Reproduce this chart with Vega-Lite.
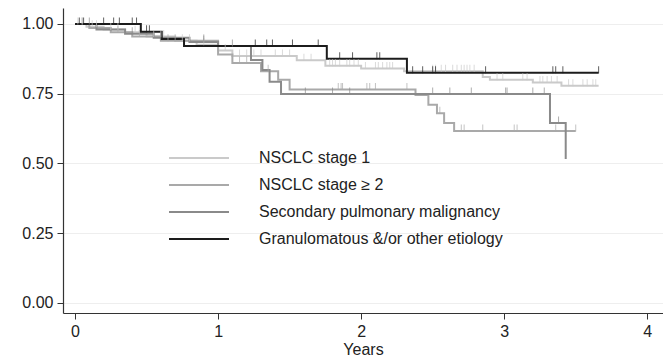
{
  "$schema": "https://vega.github.io/schema/vega-lite/v6.json",
  "width": 600,
  "height": 305,
  "autosize": {"type": "none"},
  "padding": {"left": 63, "top": 8, "right": 0, "bottom": 49},
  "background": "white",
  "config": {
    "view": {"stroke": null},
    "font": "Liberation Sans",
    "axis": {"labelFont": "Liberation Sans", "titleFont": "Liberation Sans", "labelFontSize": 16, "titleFontSize": 16, "titleFontWeight": "normal", "labelColor": "#222", "titleColor": "#222", "domainColor": "#333", "tickColor": "#333", "tickSize": 6, "domainWidth": 1.2}
  },
  "datasets": {
    "curves": [
      {"g": "NSCLC stage 1", "t": 0, "s": 1.0},
      {"g": "NSCLC stage 1", "t": 0.08, "s": 0.99},
      {"g": "NSCLC stage 1", "t": 0.2, "s": 0.98},
      {"g": "NSCLC stage 1", "t": 0.35, "s": 0.97},
      {"g": "NSCLC stage 1", "t": 0.5, "s": 0.955},
      {"g": "NSCLC stage 1", "t": 0.7, "s": 0.94},
      {"g": "NSCLC stage 1", "t": 0.85, "s": 0.925},
      {"g": "NSCLC stage 1", "t": 1.0, "s": 0.905},
      {"g": "NSCLC stage 1", "t": 1.1, "s": 0.885},
      {"g": "NSCLC stage 1", "t": 1.55, "s": 0.87},
      {"g": "NSCLC stage 1", "t": 1.75, "s": 0.85},
      {"g": "NSCLC stage 1", "t": 2.0, "s": 0.84},
      {"g": "NSCLC stage 1", "t": 2.3, "s": 0.83},
      {"g": "NSCLC stage 1", "t": 2.85, "s": 0.81},
      {"g": "NSCLC stage 1", "t": 2.9, "s": 0.8},
      {"g": "NSCLC stage 1", "t": 3.2, "s": 0.79},
      {"g": "NSCLC stage 1", "t": 3.4, "s": 0.778},
      {"g": "NSCLC stage 1", "t": 3.66, "s": 0.778},
      {"g": "NSCLC stage ≥ 2", "t": 0, "s": 1.0},
      {"g": "NSCLC stage ≥ 2", "t": 0.1, "s": 0.985},
      {"g": "NSCLC stage ≥ 2", "t": 0.25, "s": 0.97},
      {"g": "NSCLC stage ≥ 2", "t": 0.4, "s": 0.955},
      {"g": "NSCLC stage ≥ 2", "t": 0.6, "s": 0.94},
      {"g": "NSCLC stage ≥ 2", "t": 1.0, "s": 0.89},
      {"g": "NSCLC stage ≥ 2", "t": 1.1, "s": 0.86},
      {"g": "NSCLC stage ≥ 2", "t": 1.3, "s": 0.83},
      {"g": "NSCLC stage ≥ 2", "t": 1.42, "s": 0.8},
      {"g": "NSCLC stage ≥ 2", "t": 1.5, "s": 0.765},
      {"g": "NSCLC stage ≥ 2", "t": 2.38, "s": 0.745},
      {"g": "NSCLC stage ≥ 2", "t": 2.47, "s": 0.71},
      {"g": "NSCLC stage ≥ 2", "t": 2.53, "s": 0.68},
      {"g": "NSCLC stage ≥ 2", "t": 2.58, "s": 0.645},
      {"g": "NSCLC stage ≥ 2", "t": 2.65, "s": 0.616},
      {"g": "NSCLC stage ≥ 2", "t": 3.5, "s": 0.616},
      {"g": "Secondary pulmonary malignancy", "t": 0, "s": 1.0},
      {"g": "Secondary pulmonary malignancy", "t": 0.15, "s": 0.98},
      {"g": "Secondary pulmonary malignancy", "t": 0.35, "s": 0.965},
      {"g": "Secondary pulmonary malignancy", "t": 0.55, "s": 0.95},
      {"g": "Secondary pulmonary malignancy", "t": 0.8, "s": 0.935},
      {"g": "Secondary pulmonary malignancy", "t": 1.0, "s": 0.921},
      {"g": "Secondary pulmonary malignancy", "t": 1.23, "s": 0.871},
      {"g": "Secondary pulmonary malignancy", "t": 1.31, "s": 0.835},
      {"g": "Secondary pulmonary malignancy", "t": 1.36, "s": 0.793},
      {"g": "Secondary pulmonary malignancy", "t": 1.44, "s": 0.749},
      {"g": "Secondary pulmonary malignancy", "t": 3.32, "s": 0.645},
      {"g": "Secondary pulmonary malignancy", "t": 3.43, "s": 0.516},
      {"g": "Granulomatous &/or other etiology", "t": 0, "s": 1.0},
      {"g": "Granulomatous &/or other etiology", "t": 0.46, "s": 0.972},
      {"g": "Granulomatous &/or other etiology", "t": 0.606, "s": 0.946},
      {"g": "Granulomatous &/or other etiology", "t": 0.762, "s": 0.921},
      {"g": "Granulomatous &/or other etiology", "t": 1.76, "s": 0.875},
      {"g": "Granulomatous &/or other etiology", "t": 2.32, "s": 0.825},
      {"g": "Granulomatous &/or other etiology", "t": 3.66, "s": 0.825}
    ],
    "censor": [
      {"g": "NSCLC stage 1", "t": 0.02, "s": 1.0},
      {"g": "NSCLC stage 1", "t": 0.05, "s": 1.0},
      {"g": "NSCLC stage 1", "t": 0.12, "s": 0.99},
      {"g": "NSCLC stage 1", "t": 0.15, "s": 0.99},
      {"g": "NSCLC stage 1", "t": 0.25, "s": 0.98},
      {"g": "NSCLC stage 1", "t": 0.3, "s": 0.98},
      {"g": "NSCLC stage 1", "t": 0.42, "s": 0.97},
      {"g": "NSCLC stage 1", "t": 0.45, "s": 0.97},
      {"g": "NSCLC stage 1", "t": 0.55, "s": 0.955},
      {"g": "NSCLC stage 1", "t": 0.6, "s": 0.955},
      {"g": "NSCLC stage 1", "t": 0.62, "s": 0.955},
      {"g": "NSCLC stage 1", "t": 0.75, "s": 0.94},
      {"g": "NSCLC stage 1", "t": 0.8, "s": 0.94},
      {"g": "NSCLC stage 1", "t": 0.9, "s": 0.925},
      {"g": "NSCLC stage 1", "t": 1.05, "s": 0.905},
      {"g": "NSCLC stage 1", "t": 1.15, "s": 0.885},
      {"g": "NSCLC stage 1", "t": 1.2, "s": 0.885},
      {"g": "NSCLC stage 1", "t": 1.25, "s": 0.885},
      {"g": "NSCLC stage 1", "t": 1.3, "s": 0.885},
      {"g": "NSCLC stage 1", "t": 1.4, "s": 0.885},
      {"g": "NSCLC stage 1", "t": 1.45, "s": 0.885},
      {"g": "NSCLC stage 1", "t": 1.5, "s": 0.885},
      {"g": "NSCLC stage 1", "t": 1.6, "s": 0.87},
      {"g": "NSCLC stage 1", "t": 1.65, "s": 0.87},
      {"g": "NSCLC stage 1", "t": 1.78, "s": 0.85},
      {"g": "NSCLC stage 1", "t": 1.8, "s": 0.85},
      {"g": "NSCLC stage 1", "t": 1.82, "s": 0.85},
      {"g": "NSCLC stage 1", "t": 1.85, "s": 0.85},
      {"g": "NSCLC stage 1", "t": 1.9, "s": 0.85},
      {"g": "NSCLC stage 1", "t": 1.92, "s": 0.85},
      {"g": "NSCLC stage 1", "t": 1.95, "s": 0.85},
      {"g": "NSCLC stage 1", "t": 1.98, "s": 0.85},
      {"g": "NSCLC stage 1", "t": 2.03, "s": 0.84},
      {"g": "NSCLC stage 1", "t": 2.1, "s": 0.84},
      {"g": "NSCLC stage 1", "t": 2.12, "s": 0.84},
      {"g": "NSCLC stage 1", "t": 2.15, "s": 0.84},
      {"g": "NSCLC stage 1", "t": 2.18, "s": 0.84},
      {"g": "NSCLC stage 1", "t": 2.2, "s": 0.84},
      {"g": "NSCLC stage 1", "t": 2.22, "s": 0.84},
      {"g": "NSCLC stage 1", "t": 2.5, "s": 0.83},
      {"g": "NSCLC stage 1", "t": 2.52, "s": 0.83},
      {"g": "NSCLC stage 1", "t": 2.56, "s": 0.83},
      {"g": "NSCLC stage 1", "t": 2.59, "s": 0.83},
      {"g": "NSCLC stage 1", "t": 2.64, "s": 0.83},
      {"g": "NSCLC stage 1", "t": 2.67, "s": 0.83},
      {"g": "NSCLC stage 1", "t": 2.7, "s": 0.83},
      {"g": "NSCLC stage 1", "t": 2.72, "s": 0.83},
      {"g": "NSCLC stage 1", "t": 2.74, "s": 0.83},
      {"g": "NSCLC stage 1", "t": 2.76, "s": 0.83},
      {"g": "NSCLC stage 1", "t": 2.79, "s": 0.83},
      {"g": "NSCLC stage 1", "t": 2.95, "s": 0.8},
      {"g": "NSCLC stage 1", "t": 2.99, "s": 0.8},
      {"g": "NSCLC stage 1", "t": 3.13, "s": 0.8},
      {"g": "NSCLC stage 1", "t": 3.16, "s": 0.8},
      {"g": "NSCLC stage 1", "t": 3.25, "s": 0.79},
      {"g": "NSCLC stage 1", "t": 3.27, "s": 0.79},
      {"g": "NSCLC stage 1", "t": 3.3, "s": 0.79},
      {"g": "NSCLC stage 1", "t": 3.33, "s": 0.79},
      {"g": "NSCLC stage 1", "t": 3.37, "s": 0.79},
      {"g": "NSCLC stage 1", "t": 3.45, "s": 0.778},
      {"g": "NSCLC stage 1", "t": 3.48, "s": 0.778},
      {"g": "NSCLC stage 1", "t": 3.55, "s": 0.778},
      {"g": "NSCLC stage 1", "t": 3.58, "s": 0.778},
      {"g": "NSCLC stage 1", "t": 3.62, "s": 0.778},
      {"g": "NSCLC stage 1", "t": 3.64, "s": 0.778},
      {"g": "NSCLC stage ≥ 2", "t": 0.05, "s": 1.0},
      {"g": "NSCLC stage ≥ 2", "t": 0.3, "s": 0.97},
      {"g": "NSCLC stage ≥ 2", "t": 0.45, "s": 0.955},
      {"g": "NSCLC stage ≥ 2", "t": 0.65, "s": 0.94},
      {"g": "NSCLC stage ≥ 2", "t": 0.7, "s": 0.94},
      {"g": "NSCLC stage ≥ 2", "t": 0.9, "s": 0.94},
      {"g": "NSCLC stage ≥ 2", "t": 1.15, "s": 0.86},
      {"g": "NSCLC stage ≥ 2", "t": 1.2, "s": 0.86},
      {"g": "NSCLC stage ≥ 2", "t": 1.35, "s": 0.83},
      {"g": "NSCLC stage ≥ 2", "t": 1.84, "s": 0.765},
      {"g": "NSCLC stage ≥ 2", "t": 1.86, "s": 0.765},
      {"g": "NSCLC stage ≥ 2", "t": 1.87, "s": 0.765},
      {"g": "NSCLC stage ≥ 2", "t": 2.04, "s": 0.765},
      {"g": "NSCLC stage ≥ 2", "t": 2.06, "s": 0.765},
      {"g": "NSCLC stage ≥ 2", "t": 2.1, "s": 0.765},
      {"g": "NSCLC stage ≥ 2", "t": 2.32, "s": 0.765},
      {"g": "NSCLC stage ≥ 2", "t": 2.55, "s": 0.68},
      {"g": "NSCLC stage ≥ 2", "t": 2.7, "s": 0.616},
      {"g": "NSCLC stage ≥ 2", "t": 2.72, "s": 0.616},
      {"g": "NSCLC stage ≥ 2", "t": 2.85, "s": 0.616},
      {"g": "NSCLC stage ≥ 2", "t": 3.07, "s": 0.616},
      {"g": "NSCLC stage ≥ 2", "t": 3.09, "s": 0.616},
      {"g": "NSCLC stage ≥ 2", "t": 3.36, "s": 0.616},
      {"g": "NSCLC stage ≥ 2", "t": 3.5, "s": 0.616},
      {"g": "Secondary pulmonary malignancy", "t": 0.1, "s": 1.0},
      {"g": "Secondary pulmonary malignancy", "t": 0.4, "s": 0.965},
      {"g": "Secondary pulmonary malignancy", "t": 0.6, "s": 0.95},
      {"g": "Secondary pulmonary malignancy", "t": 0.9, "s": 0.935},
      {"g": "Secondary pulmonary malignancy", "t": 1.1, "s": 0.921},
      {"g": "Secondary pulmonary malignancy", "t": 1.61, "s": 0.749},
      {"g": "Secondary pulmonary malignancy", "t": 1.8, "s": 0.749},
      {"g": "Secondary pulmonary malignancy", "t": 1.92, "s": 0.749},
      {"g": "Secondary pulmonary malignancy", "t": 2.5, "s": 0.749},
      {"g": "Secondary pulmonary malignancy", "t": 2.62, "s": 0.749},
      {"g": "Secondary pulmonary malignancy", "t": 2.77, "s": 0.749},
      {"g": "Secondary pulmonary malignancy", "t": 3.01, "s": 0.749},
      {"g": "Secondary pulmonary malignancy", "t": 3.02, "s": 0.749},
      {"g": "Secondary pulmonary malignancy", "t": 3.2, "s": 0.749},
      {"g": "Secondary pulmonary malignancy", "t": 3.28, "s": 0.749},
      {"g": "Secondary pulmonary malignancy", "t": 3.38, "s": 0.645},
      {"g": "Granulomatous &/or other etiology", "t": 0.03, "s": 1.0},
      {"g": "Granulomatous &/or other etiology", "t": 0.06, "s": 1.0},
      {"g": "Granulomatous &/or other etiology", "t": 0.2, "s": 1.0},
      {"g": "Granulomatous &/or other etiology", "t": 0.27, "s": 1.0},
      {"g": "Granulomatous &/or other etiology", "t": 0.31, "s": 1.0},
      {"g": "Granulomatous &/or other etiology", "t": 0.4, "s": 1.0},
      {"g": "Granulomatous &/or other etiology", "t": 0.43, "s": 1.0},
      {"g": "Granulomatous &/or other etiology", "t": 0.5, "s": 0.972},
      {"g": "Granulomatous &/or other etiology", "t": 0.52, "s": 0.972},
      {"g": "Granulomatous &/or other etiology", "t": 1.26, "s": 0.921},
      {"g": "Granulomatous &/or other etiology", "t": 1.34, "s": 0.921},
      {"g": "Granulomatous &/or other etiology", "t": 1.38, "s": 0.921},
      {"g": "Granulomatous &/or other etiology", "t": 1.52, "s": 0.921},
      {"g": "Granulomatous &/or other etiology", "t": 1.7, "s": 0.921},
      {"g": "Granulomatous &/or other etiology", "t": 1.85, "s": 0.875},
      {"g": "Granulomatous &/or other etiology", "t": 1.94, "s": 0.875},
      {"g": "Granulomatous &/or other etiology", "t": 2.11, "s": 0.875},
      {"g": "Granulomatous &/or other etiology", "t": 2.13, "s": 0.875},
      {"g": "Granulomatous &/or other etiology", "t": 2.36, "s": 0.825},
      {"g": "Granulomatous &/or other etiology", "t": 2.43, "s": 0.825},
      {"g": "Granulomatous &/or other etiology", "t": 2.5, "s": 0.825},
      {"g": "Granulomatous &/or other etiology", "t": 2.52, "s": 0.825},
      {"g": "Granulomatous &/or other etiology", "t": 2.87, "s": 0.825},
      {"g": "Granulomatous &/or other etiology", "t": 3.34, "s": 0.825},
      {"g": "Granulomatous &/or other etiology", "t": 3.36, "s": 0.825},
      {"g": "Granulomatous &/or other etiology", "t": 3.41, "s": 0.825},
      {"g": "Granulomatous &/or other etiology", "t": 3.66, "s": 0.825}
    ]
  },
  "layer": [
    {
      "data": {"name": "curves"},
      "mark": {"type": "line", "interpolate": "step-after", "strokeWidth": 2},
      "encoding": {
        "x": {"field": "t", "type": "quantitative", "scale": {"domain": [-0.084, 4.11], "nice": false, "zero": false},
              "axis": {"values": [0, 1, 2, 3, 4], "format": "d", "title": "Years", "grid": false, "labelPadding": 4, "titlePadding": 2}},
        "y": {"field": "s", "type": "quantitative", "scale": {"domain": [-0.036, 1.057], "nice": false, "zero": false},
              "axis": {"values": [0, 0.25, 0.5, 0.75, 1], "format": ".2f", "title": null, "grid": true, "gridColor": "#eeeeee", "gridWidth": 1, "labelPadding": 4}},
        "color": {"field": "g", "type": "nominal",
                  "scale": {"domain": ["NSCLC stage 1", "NSCLC stage ≥ 2", "Secondary pulmonary malignancy", "Granulomatous &/or other etiology"],
                            "range": ["#cacaca", "#a9a9a9", "#8a8a8a", "#1c1c1c"]},
                  "legend": {"orient": "none", "legendX": 104, "legendY": 142, "title": null, "padding": 0,
                             "symbolType": "M-1,0H9", "symbolSize": 144, "symbolStrokeWidth": 2.2, "symbolFillColor": "transparent",
                             "labelFontSize": 16, "labelFont": "Liberation Sans", "labelColor": "#222", "labelOffset": 76, "rowPadding": 11, "labelLimit": 400}},
        "order": {"field": "t", "type": "quantitative"}
      }
    },
    {
      "data": {"name": "censor"},
      "mark": {"type": "tick", "orient": "vertical", "size": 7, "thickness": 1, "yOffset": -3},
      "encoding": {
        "x": {"field": "t", "type": "quantitative"},
        "y": {"field": "s", "type": "quantitative"},
        "color": {"field": "g", "type": "nominal", "legend": null}
      }
    }
  ]
}
